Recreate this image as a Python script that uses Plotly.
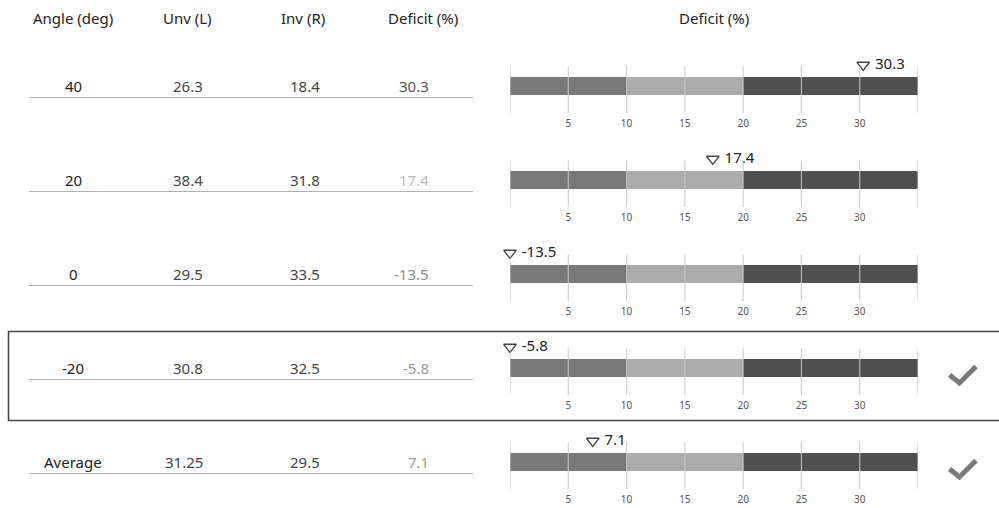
import plotly.graph_objects as go

# ---------------- data ----------------
ANGLES = ["40", "20", "0", "-20", "Average"]
UNV_L = [26.3, 38.4, 29.5, 30.8, 31.25]
INV_R = [18.4, 31.8, 33.5, 32.5, 29.5]
DEFICIT = [30.3, 17.4, -13.5, -5.8, 7.1]
HEADERS = ["Angle (deg)", "Unv (L)", "Inv (R)", "Deficit (%)"]
BAR_HEADER = "Deficit (%)"
BAND_EDGES = [0, 10, 20, 35]
TICKS = [0, 5, 10, 15, 20, 25, 30, 35]
TICK_LABELS = ["", "5", "10", "15", "20", "25", "30", ""]
CHECKED = [False, False, False, True, True]
HIGHLIGHT_ROW = 3

# ---------------- style ----------------
W, H = 999, 508
FONT = "Noto Sans"
FS = 15
BAND_COLORS = ["#787878", "#ababab", "#505050"]
DEFICIT_COLORS = ["#555555", "#bbbbbb", "#8a8a8a", "#999999", "#999999"]
ROW_CENTERS = [86, 180, 274, 368, 462]
BAR_X0, BAR_X1 = 510, 918
UP, DOWN = 19.5, 27.0     # grid extent above/below row centre (px)
TOP = 30.0                # subplot extent above row centre (px)
BAR_H = 18.6
MARK_Y = 21.0


def yp(px):
    return 1 - px / H


def xp(px):
    return px / W


fig = go.Figure()
shapes = []
annotations = []

for i, c in enumerate(ROW_CENTERS):
    n = i + 1
    xa = "x" if n == 1 else f"x{n}"
    ya = "y" if n == 1 else f"y{n}"
    # bands
    for k in range(len(BAND_EDGES) - 1):
        fig.add_trace(go.Bar(
            x=[BAND_EDGES[k + 1] - BAND_EDGES[k]], base=[BAND_EDGES[k]], y=[0],
            orientation="h", width=BAR_H, marker=dict(color=BAND_COLORS[k], line=dict(width=0)),
            xaxis=xa, yaxis=ya, showlegend=False, hoverinfo="skip"))
    # grid lines above bars
    for t in TICKS:
        shapes.append(dict(type="line", xref=xa, yref=ya, x0=t, x1=t, y0=-DOWN, y1=UP,
                           line=dict(color="rgba(200,200,200,0.85)", width=1.2), layer="above"))
    # marker
    v = DEFICIT[i]
    fig.add_trace(go.Scatter(
        x=[max(v, BAND_EDGES[0])], y=[MARK_Y], mode="markers+text",
        text=["\u00a0" + f"{v}"], textposition="middle right",
        textfont=dict(family=FONT, size=15, color="#222222"),
        marker=dict(symbol="triangle-down-open", size=11, color="#444444", line=dict(width=1.3)),
        cliponaxis=False, xaxis=xa, yaxis=ya, showlegend=False, hoverinfo="skip"))
    axis_x = dict(domain=[xp(BAR_X0), xp(BAR_X1)], range=[BAND_EDGES[0], BAND_EDGES[-1]],
                  tickvals=TICKS, ticktext=TICK_LABELS, showgrid=False, zeroline=False,
                  showline=False, ticks="", anchor=ya, ticklabelstandoff=3,
                  tickfont=dict(family=FONT, size=10, color="#555555"), fixedrange=True)
    axis_y = dict(domain=[yp(c + DOWN), yp(c - TOP)], range=[-DOWN, TOP], visible=False,
                  anchor=xa, fixedrange=True)
    fig.layout["xaxis" if n == 1 else f"xaxis{n}"] = axis_x
    fig.layout["yaxis" if n == 1 else f"yaxis{n}"] = axis_y

    # table cells
    annotations.append(dict(x=xp(73), y=yp(c), text=ANGLES[i], xanchor="center",
                            font=dict(family=FONT, size=FS, color="#222222")))
    annotations.append(dict(x=xp(205), y=yp(c), text=f"{UNV_L[i]}", xanchor="right",
                            font=dict(family=FONT, size=FS, color="#444444")))
    annotations.append(dict(x=xp(322), y=yp(c), text=f"{INV_R[i]}", xanchor="right",
                            font=dict(family=FONT, size=FS, color="#444444")))
    annotations.append(dict(x=xp(431), y=yp(c), text=f"{DEFICIT[i]}", xanchor="right",
                            font=dict(family=FONT, size=FS, color=DEFICIT_COLORS[i])))
    shapes.append(dict(type="line", xref="paper", yref="paper", x0=xp(29), x1=xp(473),
                       y0=yp(c + 11.5), y1=yp(c + 11.5), line=dict(color="#b0b0b0", width=1)))
    if CHECKED[i]:
        path = (f"M {xp(949.5)},{yp(c + 7)} L {xp(959.5)},{yp(c + 15)} "
                f"L {xp(976)},{yp(c - 1.5)}")
        shapes.append(dict(type="path", xref="paper", yref="paper", path=path,
                           line=dict(color="#7a7a7a", width=5)))

# headers
for txt, xc in zip(HEADERS, [73, 187.5, 303, 422.5]):
    annotations.append(dict(x=xp(xc), y=yp(18), text=txt, xanchor="center",
                            font=dict(family=FONT, size=FS, color="#222222")))
annotations.append(dict(x=xp((BAR_X0 + BAR_X1) / 2), y=yp(18), text=BAR_HEADER, xanchor="center",
                        font=dict(family=FONT, size=FS, color="#222222")))
for a in annotations:
    a.update(xref="paper", yref="paper", yanchor="middle", showarrow=False)

# highlight box
hc = ROW_CENTERS[HIGHLIGHT_ROW]
shapes.append(dict(type="rect", xref="paper", yref="paper", x0=xp(8.5), x1=xp(1010),
                   y0=yp(hc + 52.5), y1=yp(hc - 36.5), line=dict(color="#444444", width=1.5)))

fig.update_layout(width=W, height=H, margin=dict(l=0, r=0, t=0, b=0),
                  paper_bgcolor="white", plot_bgcolor="rgba(0,0,0,0)",
                  shapes=shapes, annotations=annotations, barmode="overlay", bargap=0,
                  font=dict(family=FONT))
fig.write_html("out.html", config={"displayModeBar": False},
               post_script="document.body.style.margin='0';document.body.style.overflow='hidden';")
